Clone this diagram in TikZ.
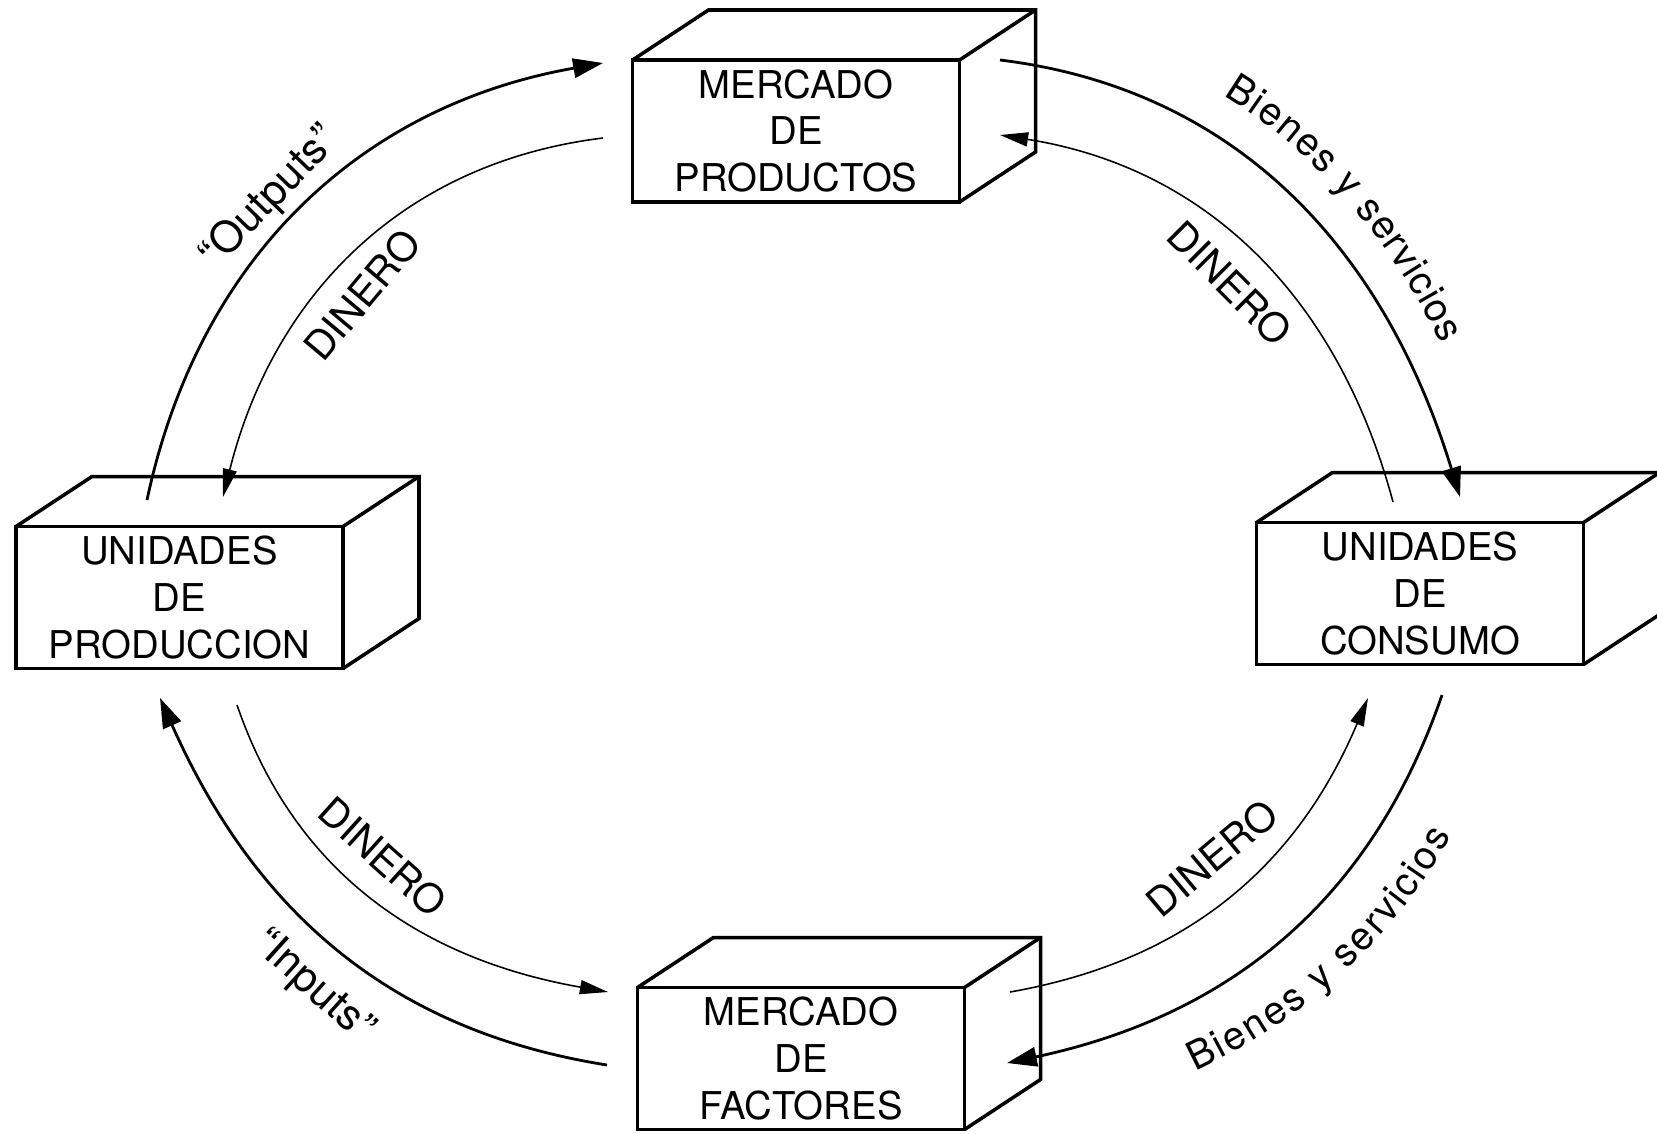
\documentclass[tikz,border=0pt]{standalone}
\usepackage{fontspec}
\setmainfont{TeX Gyre Heros}
\usetikzlibrary{arrows.meta,calc,decorations.text}
\newcommand{\fuentecaja}{\fontsize{10.9}{13.3}\selectfont}
\newcommand{\fuenteetiq}{\fontsize{11.4}{14}\selectfont}
\newcommand{\fuentemin}{\fontsize{12.2}{14}\selectfont}
\newcommand{\fuentebienes}{\fontsize{11.2}{14}\selectfont}
\newcommand{\profundidad}[1]{%
  \draw [lado] (#1.north west)--++(0.76,0.5)--++(3.27,0)--++(0,-1.42)--(#1.south east);
  \draw [lado] (#1.north east)--++(0.76,0.5);}
\tikzset{
  caja/.style={draw, line width=1pt, outer sep=0pt, inner ysep=0pt, minimum width=3.27cm,
    minimum height=1.42cm, align=center, font=\fuentecaja},
  lado/.style={line width=1pt, line join=miter},
  grueso/.style={line width=0.8pt, -{Triangle[length=8.5pt,width=5.5pt]}},
  fino/.style={line width=0.45pt, -{Triangle[length=8pt,width=4pt]}},
  etiqueta/.style={font=\fuenteetiq, inner sep=0pt}
}
\begin{document}
\begin{tikzpicture}
\useasboundingbox (0,0) rectangle (16.57,11.33);
% cajas
\node [caja] (prod) at (7.96,10.02) {MERCADO\\DE\\PRODUCTOS};
\node [caja] (uprod) at (1.795,5.355) {UNIDADES\\DE\\PRODUCCION};
\node [caja] (ucons) at (14.20,5.395) {UNIDADES\\DE\\CONSUMO};
\node [caja] (fact) at (8.01,0.745) {MERCADO\\DE\\FACTORES};
\profundidad{prod}
\profundidad{uprod}
\profundidad{ucons}
\profundidad{fact}

% extremos de las flechas
\coordinate (outA) at (1.47,6.33);
\coordinate (outB) at (6.03,10.70);
\coordinate (dinA) at (6.03,9.95);
\coordinate (dinB) at (2.23,6.36);
\coordinate (bieA) at (10.00,10.73);
\coordinate (bieB) at (14.60,6.36);
\coordinate (dicA) at (13.93,6.31);
\coordinate (dicB) at (10.00,9.98);
\coordinate (inpA) at (6.07,0.68);
\coordinate (inpB) at (1.60,4.35);
\coordinate (dfaA) at (2.37,4.28);
\coordinate (dfaB) at (6.08,1.41);
\coordinate (dffA) at (10.10,1.41);
\coordinate (dffB) at (13.68,4.35);
\coordinate (bfaA) at (14.42,4.38);
\coordinate (bfaB) at (10.07,0.70);

% flujos de arriba
\draw [grueso] (outA) to [out=78,in=190] (outB);
\draw [fino] (dinA) to [out=187,in=76] (dinB);
\draw [grueso] (bieA) to [out=-7,in=107] (bieB);
\draw [fino] (dicA) to [out=105,in=-9] (dicB);
% flujos de abajo
\draw [grueso] (inpA) to [out=171,in=-66] (inpB);
\draw [fino] (dfaA) to [out=-71,in=170] (dfaB);
\draw [fino] (dffA) to [out=10,in=-113] (dffB);
\draw [grueso] (bfaA) to [out=251,in=12] (bfaB);

% etiquetas
\node [etiqueta, font=\fuentemin, rotate=46] (loutputs) at (2.70,9.35) {“Outputs”};
\node [etiqueta, rotate=50] (ldin1) at (3.62,8.38) {DINERO};
\node [etiqueta, rotate=-45] (ldin2) at (12.30,8.50) {DINERO};
\node [etiqueta, rotate=-42] (ldin3) at (3.83,2.76) {DINERO};
\node [etiqueta, rotate=40] (ldin4) at (12.12,2.75) {DINERO};
\node [etiqueta, font=\fuentemin, rotate=-42] (linputs) at (3.13,1.46) {“Inputs”};
\path [decorate, decoration={text along path, text align={center, left indent=0.7cm},
  raise=11pt, text={|\fuentebienes|Bienes y servicios}}] (bieA) to [out=-7,in=107] (bieB);
\path [decorate, decoration={text along path, text align={center, left indent=0.5cm},
  raise=-19pt, text={|\fuentebienes|Bienes y servicios}}] (bfaB) to [out=12,in=251] (bfaA);
\end{tikzpicture}
\end{document}
